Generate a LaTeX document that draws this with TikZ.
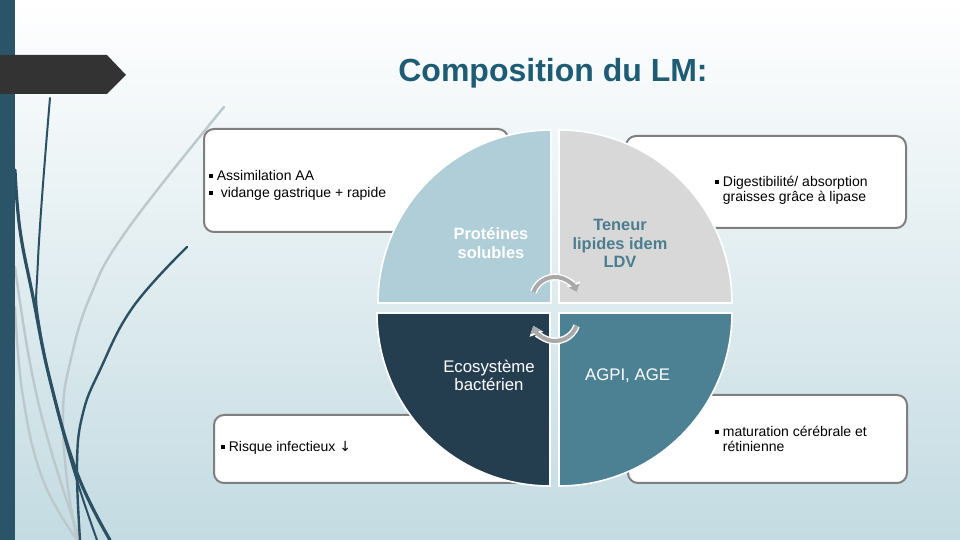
\documentclass[tikz,border=0pt]{standalone}
\usepackage{fontspec}
\setmainfont{Liberation Sans}
\newfontfamily\symfont{DejaVu Sans}
\usetikzlibrary{arrows.meta,positioning}
\definecolor{BarBlue}{HTML}{2B5468}
\definecolor{TabDark}{HTML}{333333}
\definecolor{TitleTeal}{HTML}{1E5C74}
\definecolor{QuadLight}{HTML}{B0CED7}
\definecolor{QuadGray}{HTML}{D8D8D8}
\definecolor{QuadDark}{HTML}{243E50}
\definecolor{QuadTeal}{HTML}{4B8192}
\definecolor{TealText}{HTML}{4B7D8F}
\definecolor{BoxLine}{HTML}{7F7F7F}
\definecolor{CurveDark}{HTML}{2C5063}
\definecolor{CurveLight}{HTML}{BCC8CC}
\definecolor{BgMid}{HTML}{E3EEF1}
\definecolor{BgBottom}{HTML}{C3DBE2}
\definecolor{TurnGray}{HTML}{A9A9A9}
\newcommand{\bul}{\rule[1.3pt]{1.8pt}{1.8pt}\ }

\begin{document}
\begin{tikzpicture}[x=0.5pt,y=0.5pt,
    infobox/.style={draw=BoxLine,line width=1pt,rounded corners=5pt,fill=white,inner sep=0pt},
    boxtext/.style={font=\fontsize{7}{7.5}\selectfont,align=left,inner sep=0pt},
    quarter/.style={draw=white,line width=0.8pt},
    quadbold/.style={font=\fontsize{8.2}{9.3}\selectfont\bfseries,align=center},
    quadplain/.style={font=\fontsize{8.4}{9}\selectfont,align=center,text=white},
    leafdark/.style={draw=CurveDark,line width=1.2pt,line cap=round},
    leaflight/.style={draw=CurveLight,line width=1.2pt,line cap=round},
    turnhalo/.style={draw=white,line width=3.4pt,-{Triangle[length=4.5pt,width=7pt]}},
    turnline/.style={draw=TurnGray,line width=2pt,-{Triangle[length=3.5pt,width=5.5pt]}}]
  \useasboundingbox (0,0) rectangle (960,540);
  % background
  \shade[top color=white,middle color=BgMid,bottom color=BgBottom] (0,0) rectangle (960,540);
  % left decoration
  \draw[leaflight] plot[smooth,tension=0.7] coordinates {(224,433) (127,310) (90,243) (70,177) (63,127) (67,60) (77,0)};
  \draw[leaflight] plot[smooth,tension=0.7] coordinates {(15,273) (30,177) (50,93) (80,0)};
  \draw[leaflight] plot[smooth,tension=0.7] coordinates {(15,233) (23,143) (43,60) (77,0)};
  \draw[leafdark,line width=1pt] plot[smooth,tension=0.7] coordinates {(50,442) (38,280) (40,210) (67,93) (97,0)};
  \draw[leafdark,line width=1.6pt] plot[smooth,tension=0.7] coordinates {(15,370) (20,310) (33,243) (50,160) (77,67) (110,0)};
  \draw[leafdark] plot[smooth,tension=0.7] coordinates {(187,293) (133,233) (100,170) (83,127) (77,77) (80,0)};
  \fill[BarBlue] (0,0) rectangle (15,540);
  \fill[TabDark] (0,446) -- (107,446) -- (126,465) -- (107,485) -- (0,485) -- cycle;

  \node[font=\fontsize{16}{19}\selectfont\bfseries,text=TitleTeal] (title) at (553,467) {Composition du LM:};

  % text boxes
  \node[infobox,minimum width=152pt,minimum height=51.5pt] (aminobox) at (356,359.5) {};
  \node[boxtext,font=\fontsize{7}{8.5}\selectfont,right=3pt of aminobox.west,yshift=-2.25pt] (aminotext)
    {\bul Assimilation AA\\\bul\ vidange gastrique + rapide};
  \node[infobox,minimum width=140pt,minimum height=46pt] (digbox) at (766,358) {};
  \node[boxtext,right=45pt of digbox.west,yshift=-4.25pt] (digtext)
    {\bul Digestibilité/ absorption\\\phantom{\bul}graisses grâce à lipase};
  \node[infobox,minimum width=163pt,minimum height=34pt] (riskbox) at (377,91) {};
  \node[boxtext,right=4pt of riskbox.west,yshift=0.5pt] (risktext)
    {\bul Risque infectieux {\symfont ↓}};
  \node[infobox,minimum width=139.5pt,minimum height=44pt] (brainbox) at (767.5,101) {};
  \node[boxtext,right=44pt of brainbox.west] (braintext)
    {\bul maturation cérébrale et\\\phantom{\bul}rétinienne};

  % quarters
  \filldraw[quarter,fill=QuadLight] (551,237) -- ++(-173,0) arc[start angle=180,end angle=90,radius=173] -- cycle;
  \filldraw[quarter,fill=QuadGray] (559,237) -- ++(0,173) arc[start angle=90,end angle=0,radius=173] -- cycle;
  \filldraw[quarter,fill=QuadDark] (550,227) -- ++(0,-173) arc[start angle=270,end angle=180,radius=173] -- cycle;
  \filldraw[quarter,fill=QuadTeal] (559,227) -- ++(173,0) arc[start angle=0,end angle=-90,radius=173] -- cycle;

  % turning arrows
  \coordinate (turntop) at (555,240);
  \coordinate (turnbot) at (555,222);
  \draw[turnhalo] ([shift={(160:23)}]turntop) arc[start angle=160,end angle=20,radius=23];
  \draw[turnline] ([shift={(160:23)}]turntop) arc[start angle=160,end angle=20,radius=23];
  \draw[turnhalo] ([shift={(-20:23)}]turnbot) arc[start angle=-20,end angle=-160,radius=23];
  \draw[turnline] ([shift={(-20:23)}]turnbot) arc[start angle=-20,end angle=-160,radius=23];

  \node[quadbold,text=white] (prot) at (491,297) {Protéines\\solubles};
  \node[quadbold,text=TealText] (lip) at (620,296.5) {Teneur\\lipides idem\\LDV};
  \node[quadplain] (eco) at (489,165) {Ecosystème\\bactérien};
  \node[quadplain,anchor=west] (agpi) at (578,164) {AGPI, AGE};
\end{tikzpicture}
\end{document}
